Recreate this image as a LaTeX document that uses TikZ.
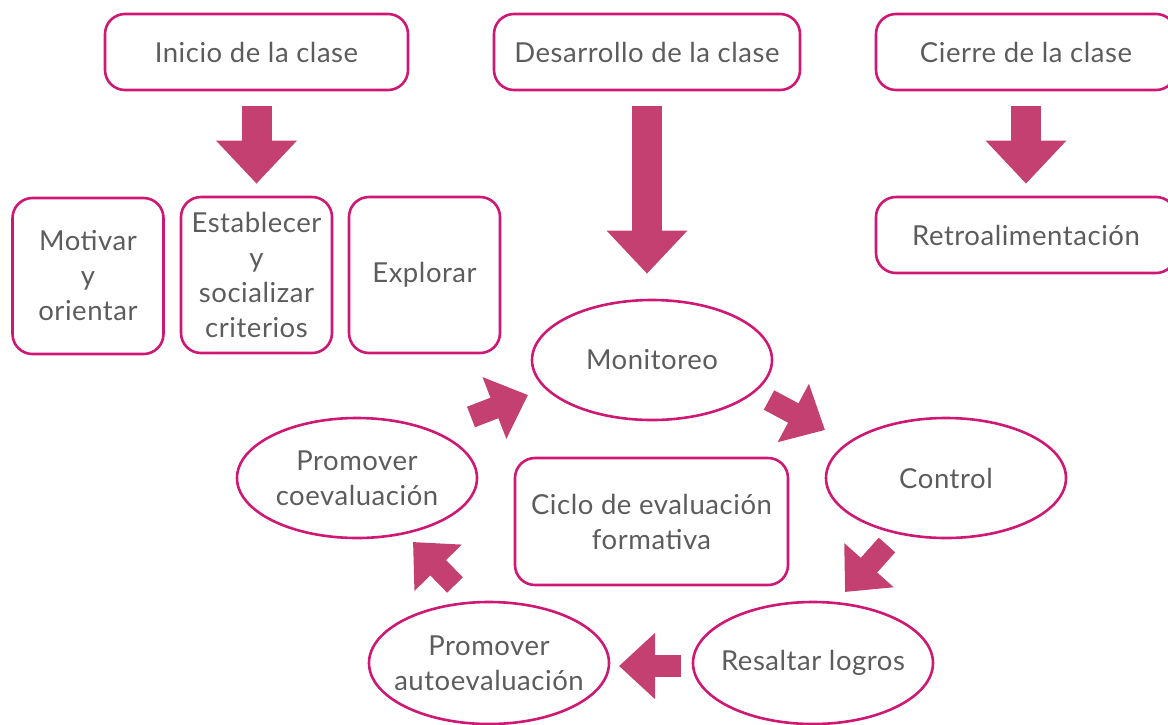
\documentclass[tikz,border=0pt]{standalone}
\usepackage{fontspec}
\setmainfont{Lato}[LetterSpace=2]
\usetikzlibrary{arrows.meta, shapes.geometric, positioning}
\definecolor{boxcolor}{RGB}{206, 24, 116}
\definecolor{arrowcolor}{RGB}{196, 64, 112}
\definecolor{textcolor}{RGB}{92, 92, 92}

\begin{document}
\begin{tikzpicture}[x=1pt, y=-1pt,
    every node/.style={text=textcolor, font=\fontsize{27.5}{35}\selectfont, align=center, inner sep=0pt},
    stage/.style={draw=boxcolor, line width=2.6pt, rounded corners=20pt, minimum height=76pt},
    task/.style={draw=boxcolor, line width=2.6pt, rounded corners=20pt, minimum width=151pt, minimum height=156pt},
    phase/.style={draw=boxcolor, line width=2.6pt, ellipse, inner xsep=-30pt, minimum width=240pt, minimum height=120pt},
    bigarrow/.style={draw=arrowcolor, line width=30pt, -{Triangle[length=43pt, width=78pt]}},
    smallarrow/.style={draw=arrowcolor, line width=22pt, -{Triangle[length=36pt, width=64pt]}}]
    \useasboundingbox (0,0) rectangle (1168,724);
    % momentos de la clase
    \node[stage, minimum width=303pt] (inicio) at (256.5,52) {Inicio de la clase};
    \node[stage, minimum width=306pt] (desarrollo) at (647,52) {Desarrollo de la clase};
    \node[stage, minimum width=300pt] (cierre) at (1026,52) {Cierre de la clase};
    % inicio
    \node[task] (motivar) at (88,276) {Motivar\\y\\orientar};
    \node[task] (establecer) at (256.5,275) {Establecer\\y\\socializar\\criterios};
    \node[task] (explorar) at (424.5,275) {Explorar};
    % cierre
    \node[stage, minimum width=300pt] (retro) at (1026,235) {Retroalimentación};
    % ciclo
    \node[phase] (monitoreo) at (652,360) {Monitoreo};
    \node[phase] (control) at (946,478) {Control};
    \node[phase, minimum height=122pt] (resaltar) at (813,663) {Resaltar logros};
    \node[phase, minimum height=122pt] (autoeval) at (489,663) {Promover\\autoevaluación};
    \node[phase] (coeval) at (357,478) {Promover\\coevaluación};
    \node[draw=boxcolor, line width=2.6pt, rounded corners=20pt, minimum width=273pt, minimum height=127pt] (ciclo) at (651.5,521.5) {Ciclo de evaluación\\formativa};
    % flechas
    \draw[bigarrow, shorten <=15pt, shorten >=12pt] (inicio.south) -- (establecer.north);
    \draw[bigarrow, shorten <=15pt, shorten >=25pt] (desarrollo.south) -- (desarrollo.south |- monitoreo.north);
    \draw[bigarrow, shorten <=15pt, shorten >=12pt] (cierre.south) -- (retro.north);
    \coordinate (cm) at (471,417);
    \coordinate (mc) at (769,400);
    \coordinate (cr) at (887,545);
    \coordinate (ra) at (681,666);
    \coordinate (ac) at (455,585);
    \draw[smallarrow] (cm) -- (528,395);
    \draw[smallarrow] (mc) -- (825,430);
    \draw[smallarrow] (cr) -- (845,592);
    \draw[smallarrow] (ra) -- (619,666);
    \draw[smallarrow] (ac) -- (413,542);
\end{tikzpicture}
\end{document}
